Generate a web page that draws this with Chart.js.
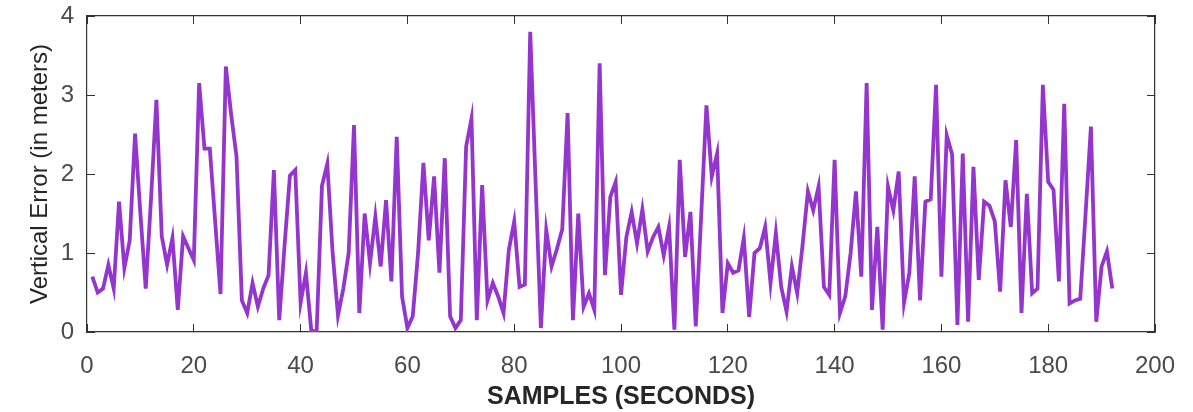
<!DOCTYPE html>
<html>
<head>
<meta charset="utf-8">
<script src="https://cdn.jsdelivr.net/npm/chart.js@4.4.1/dist/chart.umd.min.js"></script>
<style>
  html, body { margin: 0; padding: 0; background: #ffffff; }
  #wrap { width: 1193px; height: 412px; }
</style>
</head>
<body>
<div id="wrap"><canvas id="chart1" width="1193" height="412"></canvas></div>
<script>
// vertical error per sample (samples 1..192)
const verticalError = [
  0.70, 0.50, 0.55, 0.85, 0.55, 1.65, 0.81, 1.16, 2.51, 1.50,
  0.55, 1.70, 2.94, 1.21, 0.85, 1.19, 0.28, 1.21, 1.06, 0.91,
  3.15, 2.32, 2.32, 1.40, 0.48, 3.36, 2.75, 2.22, 0.40, 0.24,
  0.62, 0.32, 0.55, 0.72, 2.05, 0.15, 1.10, 1.98, 2.05, 0.37,
  0.75, 0.02, 0.00, 1.85, 2.13, 1.00, 0.21, 0.55, 1.00, 2.62,
  0.24, 1.50, 0.87, 1.46, 0.83, 1.67, 0.64, 2.47, 0.45, 0.05,
  0.20, 1.00, 2.14, 1.16, 1.97, 0.75, 2.20, 0.20, 0.05, 0.15,
  2.35, 2.70, 0.15, 1.86, 0.40, 0.62, 0.45, 0.24, 1.04, 1.40,
  0.57, 0.60, 3.80, 1.90, 0.05, 1.29, 0.83, 1.05, 1.30, 2.77,
  0.15, 1.50, 0.32, 0.49, 0.28, 3.40, 0.72, 1.71, 1.90, 0.47,
  1.20, 1.52, 1.12, 1.55, 1.02, 1.20, 1.33, 0.97, 1.33, 0.03,
  2.18, 0.95, 1.52, 0.07, 1.45, 2.87, 1.97, 2.26, 0.24, 0.87,
  0.75, 0.78, 1.19, 0.19, 1.00, 1.06, 1.33, 0.62, 1.25, 0.57,
  0.26, 0.83, 0.49, 1.10, 1.78, 1.54, 1.84, 0.57, 0.47, 2.18,
  0.24, 0.45, 1.00, 1.78, 0.70, 3.15, 0.28, 1.33, 0.03, 1.84,
  1.54, 2.03, 0.37, 0.75, 1.97, 0.40, 1.65, 1.68, 3.13, 0.70,
  2.49, 2.25, 0.09, 2.26, 0.13, 2.09, 0.66, 1.65, 1.60, 1.40,
  0.51, 1.92, 1.33, 2.43, 0.24, 1.75, 0.49, 0.55, 3.13, 1.90,
  1.80, 0.64, 2.89, 0.36, 0.40, 0.42, 1.50, 2.60, 0.13, 0.83,
  1.02, 0.55
];
const samples = verticalError.map((_, i) => i + 1);

const xTitle = 'SAMPLES (SECONDS)';
const yTitle = 'Vertical Error (in meters)';
const xMin = 0, xMax = 200, xStep = 20;
const yMin = 0, yMax = 4, yStep = 1;

const fontFamily = '"Liberation Sans", Arial, sans-serif';
const lineColor = 'rgb(148, 54, 206)';
const axisColor = '#333333';

// keep the plot box fixed: no extra room for overhanging tick labels
function fixSize(scale, w, h) {
  if (w !== null) scale.width = w;
  if (h !== null) scale.height = h;
  scale.paddingTop = 0;
  scale.paddingBottom = 0;
  scale.paddingLeft = 0;
  scale.paddingRight = 0;
}

document.addEventListener('DOMContentLoaded', function () {
  const ctx = document.getElementById('chart1').getContext('2d');

  const tickGrid = {
    drawOnChartArea: false,
    drawTicks: true,
    tickLength: -8,
    tickColor: axisColor,
    tickWidth: 1
  };
  const border = { display: true, color: axisColor, width: 1.2 };

  new Chart(ctx, {
    type: 'line',
    data: {
      datasets: [{
        data: samples.map((s, i) => ({ x: s, y: verticalError[i] })),
        borderColor: lineColor,
        borderWidth: 3.8,
        pointRadius: 0,
        tension: 0,
        fill: false
      }]
    },
    options: {
      responsive: false,
      animation: false,
      devicePixelRatio: 1,
      layout: { padding: 0 },
      plugins: {
        legend: { display: false },
        tooltip: { enabled: false }
      },
      scales: {
        x: {
          type: 'linear',
          position: 'bottom',
          min: xMin,
          max: xMax,
          grid: tickGrid,
          border: border,
          ticks: {
            stepSize: xStep,
            maxRotation: 0,
            padding: 28,
            color: '#4a4a4a',
            font: { family: fontFamily, size: 24 }
          },
          title: {
            display: true,
            text: xTitle,
            color: '#262626',
            padding: { top: 0, bottom: 0 },
            font: { family: fontFamily, size: 25, weight: 'bold' }
          },
          afterFit: (scale) => fixSize(scale, null, 80)
        },
        x2: {
          type: 'linear',
          position: 'top',
          min: xMin,
          max: xMax,
          grid: tickGrid,
          border: border,
          ticks: { stepSize: xStep, display: false },
          afterFit: (scale) => fixSize(scale, null, 16)
        },
        y: {
          type: 'linear',
          position: 'left',
          min: yMin,
          max: yMax,
          grid: tickGrid,
          border: border,
          ticks: {
            stepSize: yStep,
            padding: 21,
            color: '#4a4a4a',
            font: { family: fontFamily, size: 24 }
          },
          title: {
            display: true,
            text: yTitle,
            color: '#262626',
            padding: { top: 26, bottom: 0 },
            font: { family: fontFamily, size: 24 }
          },
          afterFit: (scale) => fixSize(scale, 87, null)
        },
        y2: {
          type: 'linear',
          position: 'right',
          min: yMin,
          max: yMax,
          grid: tickGrid,
          border: border,
          ticks: { stepSize: yStep, display: false },
          afterFit: (scale) => fixSize(scale, 38, null)
        }
      }
    }
  });
});
</script>
</body>
</html>
